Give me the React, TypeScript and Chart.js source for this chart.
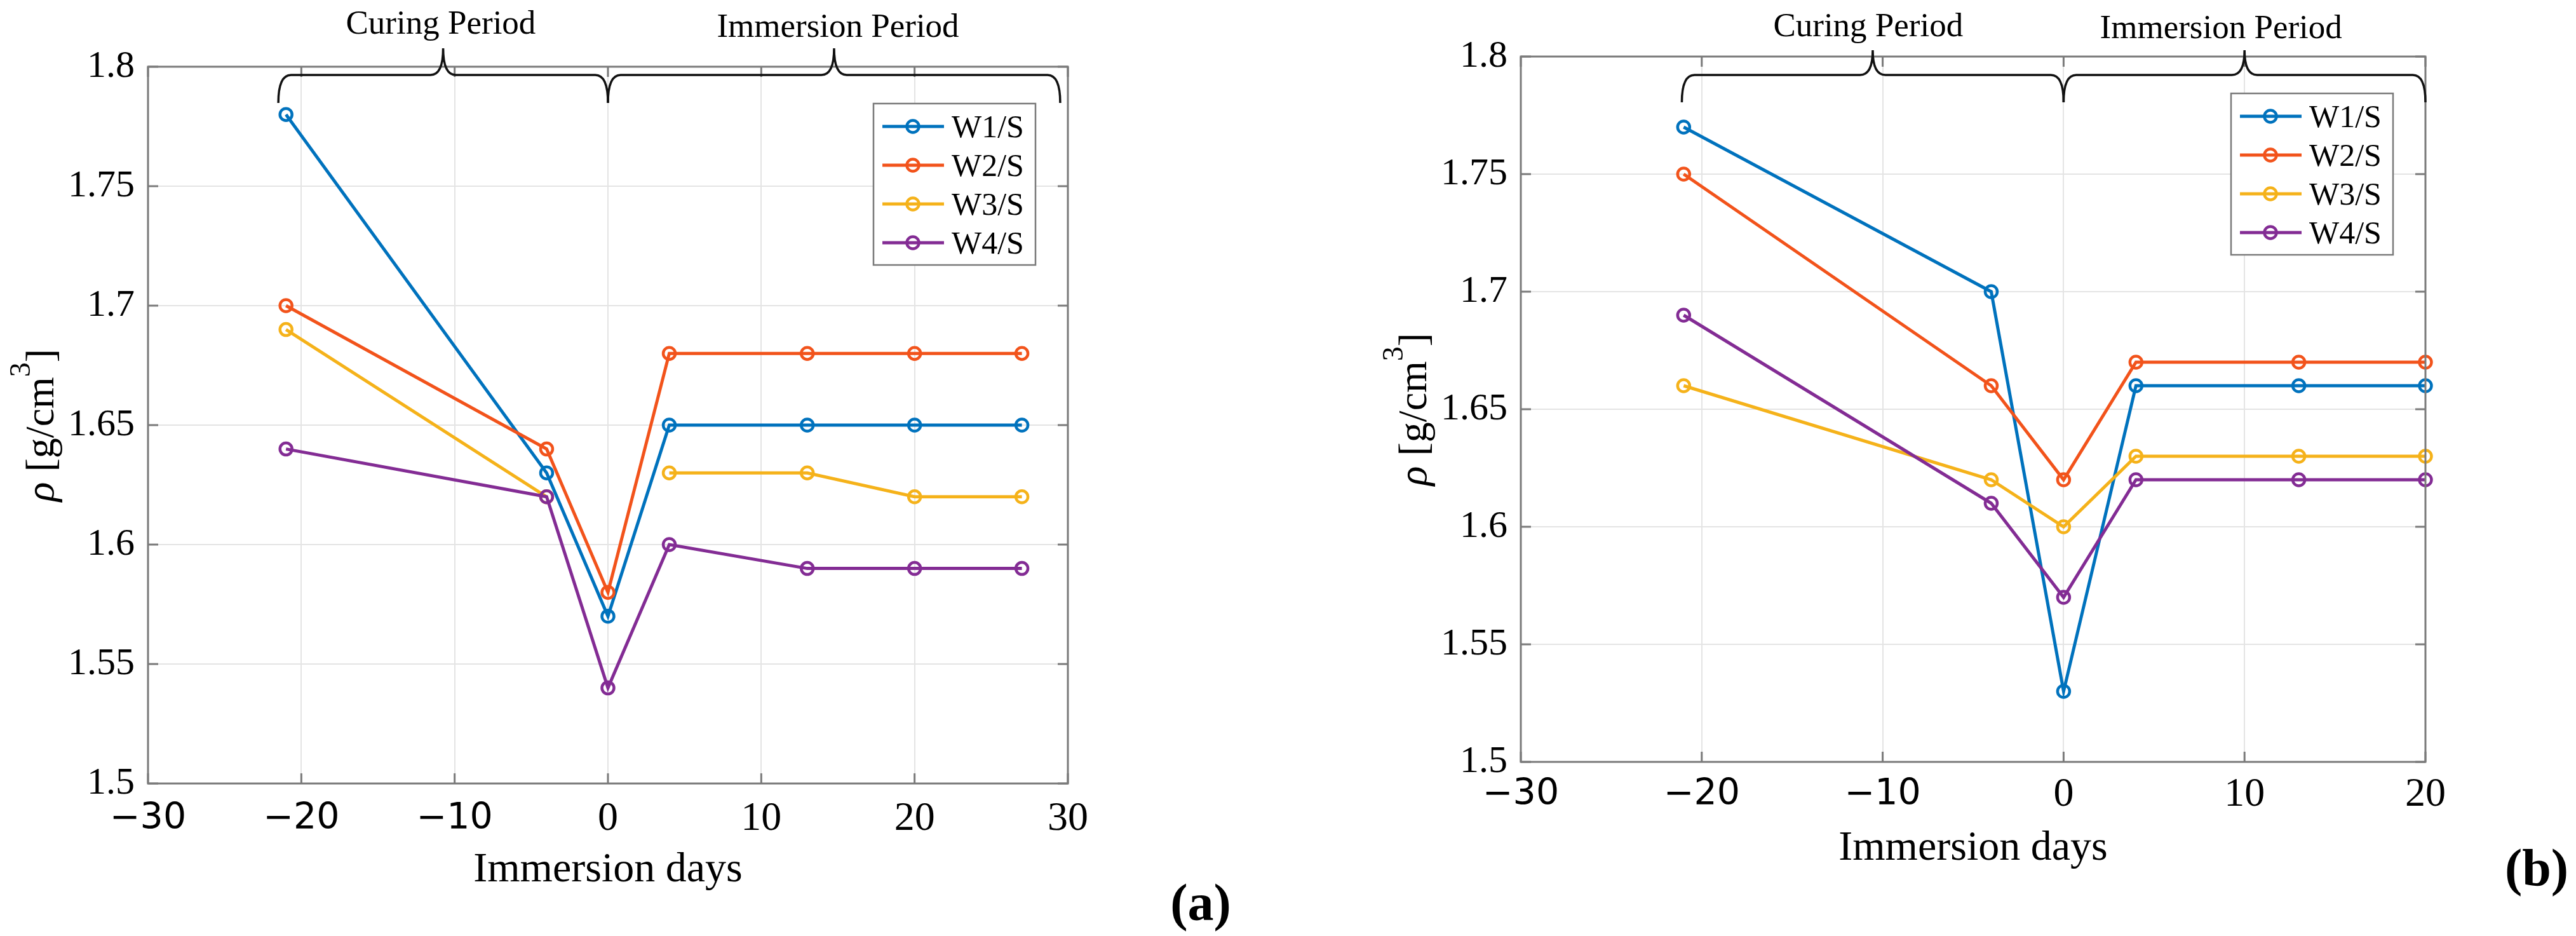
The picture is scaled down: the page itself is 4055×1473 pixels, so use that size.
import React, { useEffect, useRef } from 'react';
import { Chart, registerables } from 'chart.js';

Chart.register(...registerables);

// ---------- data ----------
const SERIES_NAMES = ['W1/S', 'W2/S', 'W3/S', 'W4/S'];
const SERIES_COLORS = ['#0072BD', '#F2531B', '#F5B21A', '#832C94'];

const daysA = [-21, -4, 0, 4, 13, 20, 27];
const w1A = [1.78, 1.63, 1.57, 1.65, 1.65, 1.65, 1.65];
const w2A = [1.7, 1.64, 1.58, 1.68, 1.68, 1.68, 1.68];
const w3A = [1.69, 1.62, null, 1.63, 1.63, 1.62, 1.62];
const w4A = [1.64, 1.62, 1.54, 1.6, 1.59, 1.59, 1.59];

const daysB = [-21, -4, 0, 4, 13, 20];
const w1B = [1.77, 1.7, 1.53, 1.66, 1.66, 1.66];
const w2B = [1.75, 1.66, 1.62, 1.67, 1.67, 1.67];
const w3B = [1.66, 1.62, 1.6, 1.63, 1.63, 1.63];
const w4B = [1.69, 1.61, 1.57, 1.62, 1.62, 1.62];

const xRangeA = [-30, 30];
const xRangeB = [-30, 20];
const yRange = [1.5, 1.8];
const xStep = 10;
const yStep = 0.05;

const PERIOD_NAMES = ['Curing Period', 'Immersion Period'];
const bracesA = [[-21.5, 0], [0, 29.5]];
const bracesB = [[-21.1, 0], [0, 20]];
const periodLabelXA = [-10.9, 15.0];
const periodLabelXB = [-10.8, 8.7];

const X_TITLE = 'Immersion days';

// ---------- styles ----------
const FIG_W = 4055;
const FIG_H = 1473;
const SERIF = '"Liberation Serif", "Times New Roman", serif';
const SANS = '"DejaVu Sans", sans-serif';
const TEXT = '#000000';
const GRID = '#e4e4e4';
const AXIS = '#7a7a7a';
const TICK_LEN = 16;
const LINE_W = 5;
const MARK_R = 9.5;
const MARK_W = 4.5;

type PanelCfg = {
  key: string;
  canvasLeft: number;
  width: number;
  areaLeft: number;
  areaRight: number;
  areaTop: number;
  areaBottom: number;
  days: number[];
  series: (number | null)[][];
  xRange: number[];
  braces: number[][];
  periodX: number[];
  periodDy: number[];
  braceDy: { h: number; tip: number; cusp: number };
  xTickPad: number;
  panelLabel: string;
  panelLabelX: number;
  panelLabelY: number;
};

const PANEL_A: PanelCfg = {
  key: 'a',
  canvasLeft: 0,
  width: 2030,
  areaLeft: 233,
  areaRight: 1681,
  areaTop: 105,
  areaBottom: 1233,
  days: daysA,
  series: [w1A, w2A, w3A, w4A],
  xRange: xRangeA,
  braces: bracesA,
  periodX: periodLabelXA,
  periodDy: [-52, -47],
  braceDy: { h: 13, tip: 57, cusp: -29 },
  xTickPad: 18,
  panelLabel: '(a)',
  panelLabelX: 1890,
  panelLabelY: 1448,
};

const PANEL_B: PanelCfg = {
  key: 'b',
  canvasLeft: 2030,
  width: 2025,
  areaLeft: 364,
  areaRight: 1788,
  areaTop: 89,
  areaBottom: 1199,
  days: daysB,
  series: [w1B, w2B, w3B, w4B],
  xRange: xRangeB,
  braces: bracesB,
  periodX: periodLabelXB,
  periodDy: [-32, -29],
  braceDy: { h: 29, tip: 72, cusp: -10 },
  xTickPad: 14,
  panelLabel: '(b)',
  panelLabelX: 1963,
  panelLabelY: 1393,
};

function fmtX(v: number) {
  return v < 0 ? '\u2212' + Math.abs(v) : String(v);
}
function fmtY(v: number) {
  return String(Math.round(v * 100) / 100);
}

function drawBrace(ctx: CanvasRenderingContext2D, x0: number, x1: number, yH: number, yTip: number, yCusp: number, r: number) {
  const xm = (x0 + x1) / 2;
  ctx.beginPath();
  ctx.moveTo(x0, yTip);
  ctx.quadraticCurveTo(x0, yH, x0 + r, yH);
  ctx.lineTo(xm - r, yH);
  ctx.quadraticCurveTo(xm, yH, xm, yCusp);
  ctx.quadraticCurveTo(xm, yH, xm + r, yH);
  ctx.lineTo(x1 - r, yH);
  ctx.quadraticCurveTo(x1, yH, x1, yTip);
  ctx.stroke();
}

function makeDecor(cfg: PanelCfg) {
  return {
    id: 'decor_' + cfg.key,
    afterDraw(chart: any) {
      const { ctx, chartArea: ca, scales } = chart;
      const xs = scales.x;
      const ys = scales.y;
      ctx.save();

      // axes box
      ctx.strokeStyle = AXIS;
      ctx.lineWidth = 3;
      ctx.strokeRect(ca.left, ca.top, ca.right - ca.left, ca.bottom - ca.top);

      // inward tick marks on all sides
      ctx.lineWidth = 3;
      ctx.beginPath();
      xs.ticks.forEach((t: any) => {
        const px = xs.getPixelForValue(t.value);
        ctx.moveTo(px, ca.bottom);
        ctx.lineTo(px, ca.bottom - TICK_LEN);
        ctx.moveTo(px, ca.top);
        ctx.lineTo(px, ca.top + TICK_LEN);
      });
      ys.ticks.forEach((t: any) => {
        const py = ys.getPixelForValue(t.value);
        ctx.moveTo(ca.left, py);
        ctx.lineTo(ca.left + TICK_LEN, py);
        ctx.moveTo(ca.right, py);
        ctx.lineTo(ca.right - TICK_LEN, py);
      });
      ctx.stroke();

      // braces
      ctx.strokeStyle = '#111111';
      ctx.lineWidth = 3.5;
      cfg.braces.forEach((b) => {
        drawBrace(
          ctx,
          xs.getPixelForValue(b[0]),
          xs.getPixelForValue(b[1]),
          ca.top + cfg.braceDy.h,
          ca.top + cfg.braceDy.tip,
          ca.top + cfg.braceDy.cusp,
          20
        );
      });

      // period labels
      ctx.fillStyle = TEXT;
      ctx.font = `53px ${SERIF}`;
      ctx.textAlign = 'center';
      ctx.textBaseline = 'alphabetic';
      PERIOD_NAMES.forEach((name, i) => {
        ctx.fillText(name, xs.getPixelForValue(cfg.periodX[i]), ca.top + cfg.periodDy[i]);
      });

      // x title
      ctx.font = `66px ${SERIF}`;
      ctx.fillText(X_TITLE, (ca.left + ca.right) / 2, ca.bottom + 154);

      // y title (rotated)
      ctx.save();
      ctx.translate(ca.left - 149, (ca.top + ca.bottom) / 2);
      ctx.rotate(-Math.PI / 2);
      const pieces = [
        { t: '\u03C1', f: `italic 64px ${SERIF}`, dy: 0 },
        { t: ' [g/cm', f: `64px ${SERIF}`, dy: 0 },
        { t: '3', f: `46px ${SERIF}`, dy: -37 },
        { t: ']', f: `64px ${SERIF}`, dy: 0 },
      ];
      let total = 0;
      const widths = pieces.map((p) => {
        ctx.font = p.f;
        const w = ctx.measureText(p.t).width;
        total += w;
        return w;
      });
      let cx = -total / 2;
      ctx.textAlign = 'left';
      pieces.forEach((p, i) => {
        ctx.font = p.f;
        ctx.fillText(p.t, cx, p.dy);
        cx += widths[i];
      });
      ctx.restore();

      // legend
      const lw = 255;
      const lh = 254;
      const lx = ca.right - 51 - lw;
      const ly = ca.top + 58;
      ctx.fillStyle = '#ffffff';
      ctx.fillRect(lx, ly, lw, lh);
      ctx.strokeStyle = AXIS;
      ctx.lineWidth = 2.5;
      ctx.strokeRect(lx, ly, lw, lh);
      SERIES_NAMES.forEach((name, i) => {
        const ry = ly + 36 + i * 61;
        ctx.strokeStyle = SERIES_COLORS[i];
        ctx.lineWidth = LINE_W;
        ctx.beginPath();
        ctx.moveTo(lx + 14, ry);
        ctx.lineTo(lx + 111, ry);
        ctx.stroke();
        ctx.lineWidth = MARK_W;
        ctx.beginPath();
        ctx.arc(lx + 62, ry, MARK_R, 0, Math.PI * 2);
        ctx.stroke();
        ctx.fillStyle = TEXT;
        ctx.font = `50px ${SERIF}`;
        ctx.textAlign = 'left';
        ctx.textBaseline = 'alphabetic';
        ctx.fillText(name, lx + 123, ry + 16.5);
      });

      // panel label
      ctx.fillStyle = TEXT;
      ctx.font = `bold 82px ${SERIF}`;
      ctx.textAlign = 'center';
      ctx.fillText(cfg.panelLabel, cfg.panelLabelX, cfg.panelLabelY);

      ctx.restore();
    },
  };
}

function Panel({ cfg }: { cfg: PanelCfg }) {
  const ref = useRef<HTMLCanvasElement | null>(null);
  useEffect(() => {
    const canvas = ref.current;
    if (!canvas) return;
    const datasets = cfg.series.map((vals, i) => ({
      label: SERIES_NAMES[i],
      data: cfg.days.map((d, j) => ({ x: d, y: vals[j] })),
      borderColor: SERIES_COLORS[i],
      backgroundColor: SERIES_COLORS[i],
      borderWidth: LINE_W,
      pointRadius: MARK_R,
      pointHoverRadius: MARK_R,
      pointBorderWidth: MARK_W,
      pointBorderColor: SERIES_COLORS[i],
      pointBackgroundColor: 'rgba(0,0,0,0)',
      tension: 0,
      spanGaps: false,
      clip: false as any,
      order: 3 - i,
    }));
    const serifTick = { family: SERIF, size: 64, lineHeight: 1.2 };
    const sansTick = { family: SANS, size: 57, lineHeight: (64 * 1.2) / 57 };
    const chart = new Chart(canvas, {
      type: 'line',
      data: { datasets: datasets as any },
      options: {
        animation: false,
        responsive: false,
        devicePixelRatio: 1,
        events: [],
        layout: {
          padding: { left: 0, right: cfg.width - cfg.areaRight, top: cfg.areaTop, bottom: 0 },
        },
        plugins: {
          legend: { display: false },
          tooltip: { enabled: false },
        },
        scales: {
          x: {
            type: 'linear',
            min: cfg.xRange[0],
            max: cfg.xRange[1],
            ticks: {
              stepSize: xStep,
              autoSkip: false,
              maxRotation: 0,
              padding: cfg.xTickPad,
              color: TEXT,
              font: (c: any) => (c.tick && c.tick.value < 0 ? sansTick : serifTick),
              callback: (v: any) => fmtX(Number(v)),
            },
            grid: { color: GRID, lineWidth: 2, drawTicks: false },
            border: { display: false },
            afterFit: (s: any) => {
              s.height = FIG_H - cfg.areaBottom;
            },
          },
          y: {
            type: 'linear',
            min: yRange[0],
            max: yRange[1],
            ticks: {
              stepSize: yStep,
              autoSkip: false,
              padding: 21,
              color: TEXT,
              font: { family: SERIF, size: 60 },
              callback: (v: any) => fmtY(Number(v)),
            },
            grid: { color: GRID, lineWidth: 2, drawTicks: false },
            border: { display: false },
            afterFit: (s: any) => {
              s.width = cfg.areaLeft;
            },
          },
        },
      },
      plugins: [makeDecor(cfg)],
    });
    return () => chart.destroy();
  }, [cfg]);
  return (
    <canvas
      ref={ref}
      width={cfg.width}
      height={FIG_H}
      style={{ position: 'absolute', left: cfg.canvasLeft, top: 0, width: cfg.width, height: FIG_H }}
    />
  );
}

export default function App() {
  return (
    <div
      style={{
        position: 'absolute',
        left: 0,
        top: 0,
        width: FIG_W,
        height: FIG_H,
        background: '#ffffff',
        overflow: 'hidden',
      }}
    >
      <Panel cfg={PANEL_A} />
      <Panel cfg={PANEL_B} />
    </div>
  );
}
